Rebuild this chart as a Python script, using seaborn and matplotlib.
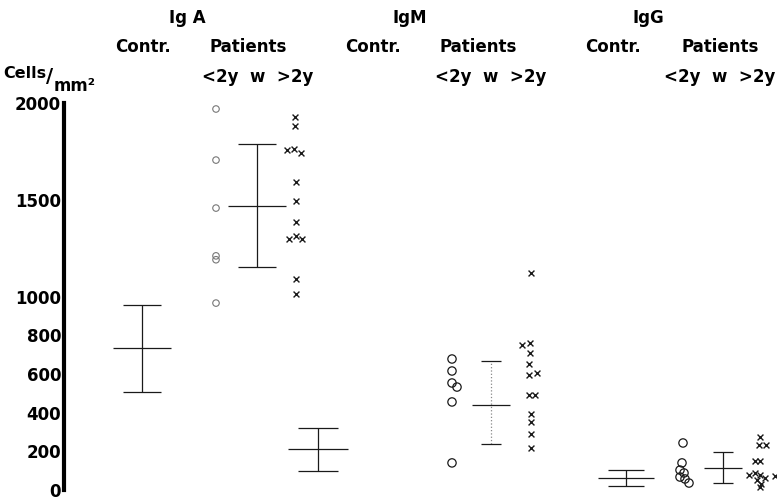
import matplotlib
matplotlib.use("Agg")
import matplotlib.pyplot as plt
import seaborn as sns
import pandas as pd

# values (cells / mm2)
iga_young = [1969, 1705, 1457, 1210, 1190, 966]
iga_old = [1928, 1881, 1757, 1762, 1742, 1592, 1493, 1385, 1297, 1313, 1297, 1090, 1013]
igm_young = [677, 615, 553, 532, 455, 140]
igm_old = [1121, 749, 760, 708, 651, 594, 605, 491, 491, 393, 351, 289, 217]
igg_young = [243, 140, 103, 88, 67, 57, 36]
igg_old = [274, 233, 233, 150, 150, 78, 88, 78, 62, 72, 52, 31, 16]

# summary bars (controls and "w" column): mean, upper and lower limits
bar_names = ['IgA contr', 'IgA w', 'IgM contr', 'IgM w', 'IgG contr', 'IgG w']
bar_mean = [734, 1468, 212, 439, 62, 114]
bar_upper = [956, 1788, 320, 667, 103, 196]
bar_lower = [506, 1152, 98, 238, 21, 36]

y_ticks = [0, 200, 400, 600, 800, 1000, 1500, 2000]

# ---- layout (x in figure pixels) ----
W, H = 777, 500
bar_x = [142, 257, 318, 491, 626, 723]
cap_half = [19, 19, 20, 10, 18, 10]
mean_half = [29, 29, 30, 19, 28, 19]
bar_style = ['-', '-', '-', ':', '-', '-']

young_x = {'IgA': 216, 'IgM': 452, 'IgG': 684}
old_x = {'IgA': 295, 'IgM': 530, 'IgG': 760}
young_jit = {'IgA': [0, 0, 0, 0, 0, 0],
             'IgM': [0, 0, 0, 5, 0, 0],
             'IgG': [-1, -2, -4, 0, -4, 1, 5]}
old_jit = {'IgA': [0, 0, -8, -1, 6, 1, 1, 1, -6, 1, 7, 1, 1],
           'IgM': [1, -8, 0, 0, -1, -1, 7, -1, 5, 1, 1, 1, 1],
           'IgG': [0, -1, 6, -5, 0, -11, -5, 0, 5, 15, -3, 1, 0]}

sns.set_style("white")
plt.rcParams['font.family'] = ['DejaVu Sans']
plt.rcParams['text.color'] = 'black'

fig = plt.figure(figsize=(W / 100, H / 100), dpi=100)
ax = fig.add_axes([64 / W, 10 / H, (W - 64) / W, 387 / H])
ax.set_xlim(64, W)
ax.set_ylim(0, 2000)

ink = '#1a1a1a'

# scatter of individual patients
young = {'IgA': iga_young, 'IgM': igm_young, 'IgG': igg_young}
old = {'IgA': iga_old, 'IgM': igm_old, 'IgG': igg_old}
rows = []
for g in ['IgA', 'IgM', 'IgG']:
    for v, j in zip(young[g], young_jit[g]):
        rows.append({'group': g, 'kind': 'young', 'x': young_x[g] + j, 'value': v})
    for v, j in zip(old[g], old_jit[g]):
        rows.append({'group': g, 'kind': 'old', 'x': old_x[g] + j, 'value': v})
df = pd.DataFrame(rows)

yg = df[df.kind == 'young']
sns.scatterplot(data=yg[yg.group == 'IgA'], x='x', y='value', ax=ax, marker='o',
                s=22, facecolors='none', edgecolors='#777777', linewidth=0.8, clip_on=False)
sns.scatterplot(data=yg[yg.group != 'IgA'], x='x', y='value', ax=ax, marker='o',
                s=36, facecolors='none', edgecolors=ink, linewidth=0.9, clip_on=False)
sns.scatterplot(data=df[df.kind == 'old'], x='x', y='value', ax=ax, marker='x',
                s=18, color=ink, linewidth=1.0, clip_on=False)

# mean / range bars
for x, m, u, l, c, mh, ls in zip(bar_x, bar_mean, bar_upper, bar_lower,
                                 cap_half, mean_half, bar_style):
    ax.vlines(x, l, u, color=ink if ls == '-' else '#888888', lw=0.9, linestyles=ls)
    ax.hlines([u, l], x - c, x + c, color=ink, lw=0.9)
    ax.hlines(m, x - mh, x + mh, color=ink, lw=0.9)

# axis
ax.set_xlabel('')
ax.set_ylabel('')
ax.set_xticks([])
ax.set_yticks(y_ticks)
ax.set_yticklabels([str(t) for t in y_ticks], fontsize=12, fontweight='bold', color='black')
for s in ['top', 'right', 'bottom']:
    ax.spines[s].set_visible(False)
ax.spines['left'].set_linewidth(3)
ax.spines['left'].set_color('black')
ax.tick_params(axis='y', direction='in', length=6, width=2, pad=2, colors='black')


def px(x, y):
    return x / W, 1 - y / H


hdr = dict(fontsize=12, fontweight='bold', ha='center', va='center', color='black')
fig.text(*px(187, 18), 'Ig A', **hdr)
fig.text(*px(410, 18), 'IgM', **hdr)
fig.text(*px(648, 18), 'IgG', **hdr)
for cx, lab in [(143, 'Contr.'), (248, 'Patients'), (373, 'Contr.'),
                (478, 'Patients'), (613, 'Contr.'), (720, 'Patients')]:
    fig.text(*px(cx, 47), lab, **hdr)
for cx in [258, 491, 720]:
    fig.text(*px(cx, 77), '<2y  w  >2y', **hdr)

fig.text(*px(3, 73), 'Cells', fontsize=11.5, fontweight='bold', ha='left', va='center')
fig.text(*px(46, 77), '/', fontsize=14, fontweight='bold', ha='left', va='center')
fig.text(*px(54, 86), 'mm²', fontsize=12, fontweight='bold', ha='left', va='center')

fig.savefig('out.png', dpi=100)
